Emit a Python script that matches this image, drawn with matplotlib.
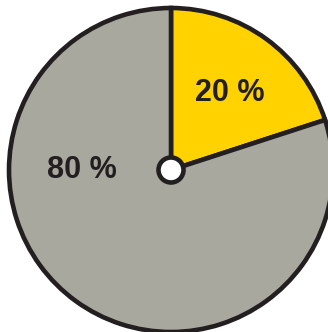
import matplotlib.pyplot as plt

# share of each slice (percent)
shares = [20, 80]
labels = ['20 %', '80 %']
colors = ['#FFD200', '#A8A89F']
edge = '#231F20'

fig = plt.figure(figsize=(3.28, 3.32), dpi=100)
ax = fig.add_axes([0, 0, 1, 1])

cx, cy, r = 171, 162, 162
ax.pie(shares, colors=colors, startangle=90, counterclock=False,
       center=(cx, cy), radius=r, frame=True,
       wedgeprops=dict(edgecolor=edge, linewidth=3.3, joinstyle='miter'))
ax.set_xlim(0, 328)
ax.set_ylim(0, 332)
ax.set_aspect('equal')
ax.axis('off')

# white hole in the middle
hole = plt.Circle((cx, cy), 12.5, facecolor='white', edgecolor=edge, linewidth=3.3, zorder=5)
ax.add_patch(hole)

# label positions
ax.text(cx + 59, cy + 77, labels[0], ha='center', va='center',
        fontsize=22, fontweight='bold', family='Liberation Sans', color=edge)
ax.text(cx - 89, cy, labels[1], ha='center', va='center',
        fontsize=22, fontweight='bold', family='Liberation Sans', color=edge)

fig.savefig('out.png', dpi=100)
